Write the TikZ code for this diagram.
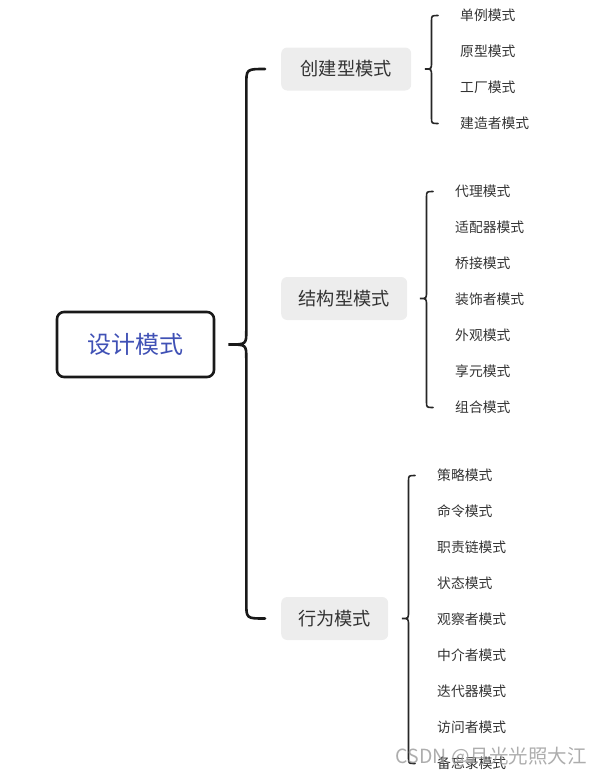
\documentclass[tikz,border=0pt]{standalone}
\usepackage{fontspec}
\setmainfont{Noto Sans CJK SC}
\usetikzlibrary{calc}
\definecolor{rootblue}{RGB}{64,81,181}
\definecolor{boxgray}{RGB}{237,237,237}
\definecolor{txt}{RGB}{51,51,51}
\tikzset{
  rootbox/.style={draw=black!90,line width=2.6pt,rounded corners=7pt,minimum width=157pt,minimum height=65pt,text=rootblue,font=\fontsize{24}{27}\selectfont,inner sep=0pt},
  catbox/.style={fill=boxgray,rounded corners=6pt,minimum height=43pt,inner xsep=8pt,text=txt,font=\fontsize{18.2}{21}\selectfont,anchor=west},
  leaf/.style={text=txt,font=\fontsize{13.8}{16}\selectfont,inner sep=0pt,anchor=west},
  bigbrace/.style={draw=black!90,line width=2.6pt,line cap=round},
  smallbrace/.style={draw=black!85,line width=1.6pt,line cap=round},
  wmark/.style={text=black!40,font=\fontsize{19.5}{21}\selectfont,inner sep=0pt,anchor=east,opacity=0.8}
}
\begin{document}
\begin{tikzpicture}[x=1pt,y=1pt]
\useasboundingbox (0,0) rectangle (602,-777);
% root
\node[rootbox] (root) at (135.5,-344.5) {设计模式};
% categories
\node[catbox,minimum width=130pt] (c1) at (281,-69) {创建型模式};
\node[catbox,minimum width=126pt] (c2) at (281,-298.5) {结构型模式};
\node[catbox,minimum width=107pt] (c3) at (281,-618.5) {行为模式};
% creational
\node[leaf] (a1) at (460,-15.5) {单例模式};
\node[leaf] (a2) at (460,-51.5) {原型模式};
\node[leaf] (a3) at (460,-87.5) {工厂模式};
\node[leaf] (a4) at (460,-123.5) {建造者模式};
% structural
\node[leaf] (b1) at (455,-191.5) {代理模式};
\node[leaf] (b2) at (455,-227.5) {适配器模式};
\node[leaf] (b3) at (455,-263.5) {桥接模式};
\node[leaf] (b4) at (455,-299.5) {装饰者模式};
\node[leaf] (b5) at (455,-335.5) {外观模式};
\node[leaf] (b6) at (455,-371.5) {享元模式};
\node[leaf] (b7) at (455,-407.5) {组合模式};
% behavioral
\node[leaf] (d1) at (437,-475.5) {策略模式};
\node[leaf] (d2) at (437,-511.5) {命令模式};
\node[leaf] (d3) at (437,-547.5) {职责链模式};
\node[leaf] (d4) at (437,-583.5) {状态模式};
\node[leaf] (d5) at (437,-619.5) {观察者模式};
\node[leaf] (d6) at (437,-655.5) {中介者模式};
\node[leaf] (d7) at (437,-691.5) {迭代器模式};
\node[leaf] (d8) at (437,-727.5) {访问者模式};
\node[leaf] (d9) at (437,-763.5) {备忘录模式};
% big brace
\draw[bigbrace] let \p1=(root.east), \p2=(c1.west), \p3=(c3.west) in
  (\x2-16pt,\y2) .. controls (\x1+31pt,\y2) .. (\x1+31pt,\y2-16pt)
  -- (\x1+31pt,\y1+14pt) .. controls (\x1+31pt,\y1) .. (\x1+13pt,\y1)
  .. controls (\x1+31pt,\y1) .. (\x1+31pt,\y1-14pt)
  -- (\x1+31pt,\y3+16pt) .. controls (\x1+31pt,\y3) .. (\x2-16pt,\y3);
% small braces: #1 parent, #2 first leaf, #3 last leaf
\newcommand\leafbrace[3]{%
  \draw[smallbrace] let \p1=(#1.east), \p2=(#2.west), \p3=(#3.west) in
  (\x2-22pt,\y2) .. controls (\x2-28.5pt,\y2) .. (\x2-28.5pt,\y2-6pt)
  -- (\x2-28.5pt,\y1+7pt) .. controls (\x2-28.5pt,\y1) .. (\x2-35pt,\y1)
  .. controls (\x2-28.5pt,\y1) .. (\x2-28.5pt,\y1-7pt)
  -- (\x2-28.5pt,\y3+6pt) .. controls (\x2-28.5pt,\y3) .. (\x2-22pt,\y3);}
\leafbrace{c1}{a1}{a4}
\leafbrace{c2}{b1}{b7}
\leafbrace{c3}{d1}{d9}
% watermark
\node[wmark] (wm) at (587,-757) {CSDN @月光光照大江};
\end{tikzpicture}
\end{document}
